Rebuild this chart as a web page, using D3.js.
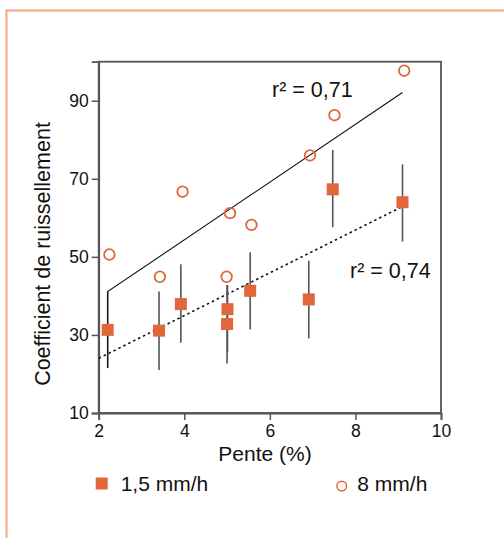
<!DOCTYPE html>
<html>
<head>
<meta charset="utf-8">
<script src="https://cdn.jsdelivr.net/npm/d3@7"></script>
<style>
  body { margin: 0; background: #fff; }
  svg { display: block; font-family: "Liberation Sans", Arial, sans-serif; }
</style>
</head>
<body>
<svg width="504" height="538"></svg>
<script>
// pente (%) and runoff coefficient
var slope_low = [2.21, 3.41, 3.92, 5.01, 5.00, 5.54, 6.91, 7.47, 9.10];
var coef_low = [31.3, 31.1, 37.9, 36.6, 32.8, 41.3, 39.1, 67.3, 64.0];
var err_lo = [21.5, 21.0, 28.0, 25.6, 22.7, 31.4, 29.1, 57.6, 53.9];
var err_hi = [41.1, 41.1, 48.1, 42.8, 42.8, 51.2, 49.0, 77.4, 73.7];

var slope_high = [2.25, 3.43, 3.96, 5.07, 4.99, 5.57, 6.94, 7.51, 9.14];
var coef_high = [50.6, 44.9, 66.7, 61.2, 44.9, 58.2, 76.0, 86.3, 97.7];

var fit_high = [[2.21, 21.5], [2.21, 41.1], [9.10, 92.1]];
var fit_low = [[2.0, 24.0], [9.10, 62.9]];

var x_ticks = [2, 4, 6, 8, 10];
var y_ticks = [10, 30, 50, 70, 90];
var labels = ["1,5 mm/h", "8 mm/h"];

var orange = "#e0673b";
var grey = "#555";

var svg = d3.select("svg");

// outer frame
svg.append("rect")
    .attr("x", 6.5).attr("y", 10.5)
    .attr("width", 600).attr("height", 600)
    .attr("fill", "none")
    .attr("stroke", "#f4a582")
    .attr("stroke-width", 2);

var xscale = d3.scaleLinear().domain([2, 10]).range([98.7, 441]);
var yscale = d3.scaleLinear().domain([10, 100]).range([413, 61.7]);

// plot box
svg.append("rect")
    .attr("x", xscale(2)).attr("y", yscale(100))
    .attr("width", xscale(10) - xscale(2))
    .attr("height", yscale(10) - yscale(100))
    .attr("fill", "none")
    .attr("stroke", grey)
    .attr("stroke-width", 1.8);

var xAxis = d3.axisBottom(xscale).tickValues(x_ticks).tickSize(7).tickPadding(5).tickFormat(d3.format("d"));
var yAxis = d3.axisLeft(yscale).tickValues(y_ticks).tickSize(7).tickPadding(3).tickFormat(d3.format("d"));

var gx = svg.append("g").attr("transform", "translate(0," + yscale(10) + ")").call(xAxis);
var gy = svg.append("g").attr("transform", "translate(" + xscale(2) + ",0)").call(yAxis);
[gx, gy].forEach(function(g) {
    g.select(".domain").attr("stroke", grey).attr("stroke-width", 1.8);
    g.selectAll(".tick line").attr("stroke", grey).attr("stroke-width", 1.5);
    g.selectAll(".tick text").attr("fill", "#111").attr("font-size", 17.5)
        .attr("font-family", "Liberation Sans, Arial, sans-serif");
});

// axis titles
svg.append("text")
    .attr("x", 265).attr("y", 461)
    .attr("text-anchor", "middle")
    .attr("font-size", 21)
    .attr("fill", "#111")
    .text("Pente (%)");

svg.append("text")
    .attr("transform", "translate(50,254) rotate(-90)")
    .attr("text-anchor", "middle")
    .attr("font-size", 21.5)
    .attr("fill", "#111")
    .text("Coefficient de ruissellement");

// regression lines
var line = d3.line().x(function(d) { return xscale(d[0]); }).y(function(d) { return yscale(d[1]); });

svg.append("path")
    .attr("d", line(fit_low))
    .attr("fill", "none")
    .attr("stroke", "#111")
    .attr("stroke-width", 1.6)
    .attr("stroke-dasharray", "2.5,3");

// error bars
svg.append("g").selectAll("line")
    .data(slope_low)
    .enter().append("line")
    .attr("x1", function(d) { return xscale(d); })
    .attr("x2", function(d) { return xscale(d); })
    .attr("y1", function(d, i) { return yscale(err_lo[i]); })
    .attr("y2", function(d, i) { return yscale(err_hi[i]); })
    .attr("stroke", grey)
    .attr("stroke-width", 1.6);

svg.append("path")
    .attr("d", line(fit_high))
    .attr("fill", "none")
    .attr("stroke", "#111")
    .attr("stroke-width", 1.1);

// 1,5 mm/h squares
var sq = 12;
svg.append("g").selectAll("rect")
    .data(slope_low)
    .enter().append("rect")
    .attr("x", function(d) { return xscale(d) - sq / 2; })
    .attr("y", function(d, i) { return yscale(coef_low[i]) - sq / 2; })
    .attr("width", sq).attr("height", sq)
    .attr("fill", orange);

// 8 mm/h circles
svg.append("g").selectAll("circle")
    .data(slope_high)
    .enter().append("circle")
    .attr("cx", function(d) { return xscale(d); })
    .attr("cy", function(d, i) { return yscale(coef_high[i]); })
    .attr("r", 5.3)
    .attr("fill", "none")
    .attr("stroke", orange)
    .attr("stroke-width", 1.8);

// r2 labels
svg.append("text").attr("x", 272).attr("y", 97)
    .attr("font-size", 21.5).attr("fill", "#111").text("r\u00b2 = 0,71");
svg.append("text").attr("x", 350).attr("y", 278)
    .attr("font-size", 21.5).attr("fill", "#111").text("r\u00b2 = 0,74");

// legend
svg.append("rect")
    .attr("x", 95.7).attr("y", 477.5)
    .attr("width", sq).attr("height", sq)
    .attr("fill", orange);
svg.append("text").attr("x", 120.7).attr("y", 491)
    .attr("font-size", 21).attr("fill", "#111").text(labels[0]);

svg.append("circle")
    .attr("cx", 341.7).attr("cy", 486).attr("r", 4.8)
    .attr("fill", "none")
    .attr("stroke", orange)
    .attr("stroke-width", 1.5);
svg.append("text").attr("x", 357.3).attr("y", 491)
    .attr("font-size", 21).attr("fill", "#111").text(labels[1]);
</script>
</body>
</html>
